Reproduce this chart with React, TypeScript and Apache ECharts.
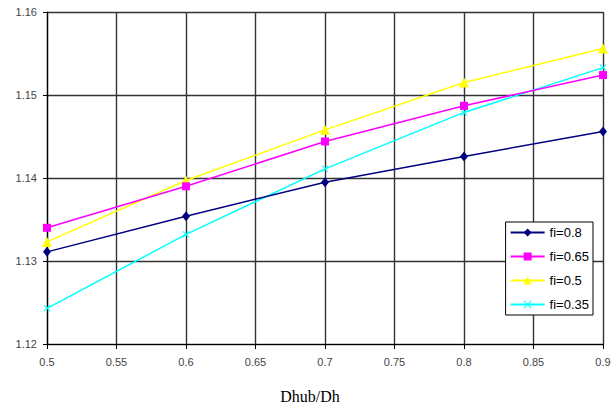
import React, { useEffect, useRef } from "react";
import * as echarts from "echarts";

// Hub-to-tip diameter ratio
const ratios = [0.5, 0.6, 0.7, 0.8, 0.9];

const seriesNames = ["fi=0.8", "fi=0.65", "fi=0.5", "fi=0.35"];
const fi080 = [1.1311, 1.1354, 1.1395, 1.1426, 1.1456];
const fi065 = [1.134, 1.139, 1.1444, 1.1487, 1.1524];
const fi050 = [1.1323, 1.1397, 1.1458, 1.1515, 1.1556];
const fi035 = [1.1243, 1.1332, 1.1411, 1.1479, 1.1533];

const xTitle = "Dhub/Dh";

const colors = ["#000080", "#FF00FF", "#FFFF00", "#00FFFF"];
const crossPath =
  "path://M0,1 L1,0 L5,4 L9,0 L10,1 L6,5 L10,9 L9,10 L5,6 L1,10 L0,9 L4,5Z";
const symbols = ["diamond", "rect", "triangle", crossPath];
const symbolSizes: any[] = [[8, 10], 8, 10, 7];

export default function App() {
  const ref = useRef<HTMLDivElement>(null);

  useEffect(() => {
    if (!ref.current) return;
    const chart = echarts.init(ref.current, null, { renderer: "svg" });
    const values = [fi080, fi065, fi050, fi035];

    chart.setOption({
      animation: false,
      backgroundColor: "#ffffff",
      grid: {
        left: 47,
        right: 11,
        top: 12,
        bottom: 64,
        containLabel: false,
        outerBoundsMode: "none",
      },
      legend: {
        orient: "vertical",
        right: 21,
        top: 222,
        itemWidth: 34,
        itemHeight: 10,
        itemGap: 11,
        padding: [4, 4, 4, 4],
        backgroundColor: "#ffffff",
        borderColor: "#000000",
        borderWidth: 1,
        borderRadius: 0,
        textStyle: {
          fontFamily: "Liberation Sans, Arial, sans-serif",
          fontSize: 13,
          color: "#000000",
        },
        data: seriesNames,
      },
      graphic: [
        {
          type: "text",
          x: 310,
          y: 396,
          style: {
            text: xTitle,
            fontFamily: "Liberation Serif, Times New Roman, serif",
            fontSize: 16,
            fill: "#000000",
            align: "center",
            verticalAlign: "middle",
          },
        },
      ],
      xAxis: {
        type: "value",
        min: 0.5,
        max: 0.9,
        interval: 0.05,
        axisLine: { show: true, lineStyle: { color: "#000000", width: 1.2 } },
        axisTick: { show: true, length: 5, lineStyle: { color: "#000000" } },
        axisLabel: {
          margin: 12,
          fontFamily: "Liberation Sans, Arial, sans-serif",
          fontSize: 11,
          color: "#444444",
          formatter: (v: number) => String(+v.toFixed(2)),
        },
        splitLine: { show: true, lineStyle: { color: "#333333", width: 1.4 } },
      },
      yAxis: {
        type: "value",
        min: 1.12,
        max: 1.16,
        interval: 0.01,
        axisLine: { show: true, lineStyle: { color: "#000000", width: 1.2 } },
        axisTick: { show: true, length: 4, lineStyle: { color: "#000000" } },
        axisLabel: {
          margin: 10,
          fontFamily: "Liberation Sans, Arial, sans-serif",
          fontSize: 11,
          color: "#444444",
          formatter: (v: number) => v.toFixed(2),
        },
        splitLine: { show: true, lineStyle: { color: "#333333", width: 1.4 } },
      },
      series: seriesNames.map((name, i) => ({
        name,
        type: "line",
        data: ratios.map((r, j) => [r, values[i][j]]),
        symbol: symbols[i],
        symbolSize: symbolSizes[i],
        showAllSymbol: true,
        lineStyle: { color: colors[i], width: 1.5 },
        itemStyle: { color: colors[i] },
        z: 10 - i,
      })),
    });

    return () => chart.dispose();
  }, []);

  return (
    <div
      ref={ref}
      style={{ position: "absolute", left: 0, top: 0, width: 614, height: 408 }}
    />
  );
}
